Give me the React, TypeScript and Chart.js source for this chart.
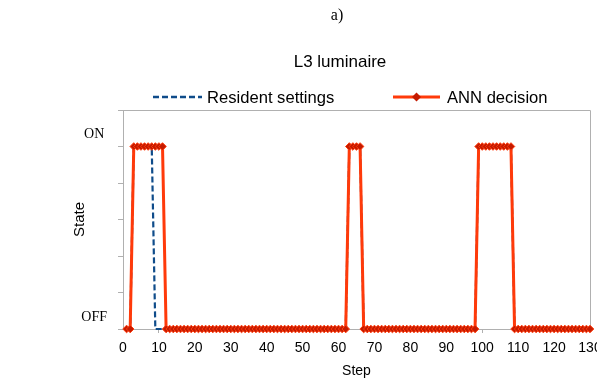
import React, { useEffect, useRef } from "react";
import { Chart, registerables } from "chart.js";

Chart.register(...registerables);

const steps = [
  1, 2, 3, 4, 5, 6, 7, 8, 9, 10,
  11, 12, 13, 14, 15, 16, 17, 18, 19, 20,
  21, 22, 23, 24, 25, 26, 27, 28, 29, 30,
  31, 32, 33, 34, 35, 36, 37, 38, 39, 40,
  41, 42, 43, 44, 45, 46, 47, 48, 49, 50,
  51, 52, 53, 54, 55, 56, 57, 58, 59, 60,
  61, 62, 63, 64, 65, 66, 67, 68, 69, 70,
  71, 72, 73, 74, 75, 76, 77, 78, 79, 80,
  81, 82, 83, 84, 85, 86, 87, 88, 89, 90,
  91, 92, 93, 94, 95, 96, 97, 98, 99, 100,
  101, 102, 103, 104, 105, 106, 107, 108, 109, 110,
  111, 112, 113, 114, 115, 116, 117, 118, 119, 120,
  121, 122, 123, 124, 125, 126, 127, 128, 129, 130,
];

const residentSettings = [
  0, 0, 1, 1, 1, 1, 1, 1, 0, 0,
  0, 0, 0, 0, 0, 0, 0, 0, 0, 0,
  0, 0, 0, 0, 0, 0, 0, 0, 0, 0,
  0, 0, 0, 0, 0, 0, 0, 0, 0, 0,
  0, 0, 0, 0, 0, 0, 0, 0, 0, 0,
  0, 0, 0, 0, 0, 0, 0, 0, 0, 0,
  0, 0, 1, 1, 1, 1, 0, 0, 0, 0,
  0, 0, 0, 0, 0, 0, 0, 0, 0, 0,
  0, 0, 0, 0, 0, 0, 0, 0, 0, 0,
  0, 0, 0, 0, 0, 0, 0, 0, 1, 1,
  1, 1, 1, 1, 1, 1, 1, 1, 0, 0,
  0, 0, 0, 0, 0, 0, 0, 0, 0, 0,
  0, 0, 0, 0, 0, 0, 0, 0, 0, 0,
];

const annDecision = [
  0, 0, 1, 1, 1, 1, 1, 1, 1, 1,
  1, 0, 0, 0, 0, 0, 0, 0, 0, 0,
  0, 0, 0, 0, 0, 0, 0, 0, 0, 0,
  0, 0, 0, 0, 0, 0, 0, 0, 0, 0,
  0, 0, 0, 0, 0, 0, 0, 0, 0, 0,
  0, 0, 0, 0, 0, 0, 0, 0, 0, 0,
  0, 0, 1, 1, 1, 1, 0, 0, 0, 0,
  0, 0, 0, 0, 0, 0, 0, 0, 0, 0,
  0, 0, 0, 0, 0, 0, 0, 0, 0, 0,
  0, 0, 0, 0, 0, 0, 0, 0, 1, 1,
  1, 1, 1, 1, 1, 1, 1, 1, 0, 0,
  0, 0, 0, 0, 0, 0, 0, 0, 0, 0,
  0, 0, 0, 0, 0, 0, 0, 0, 0, 0,
];

const xTickMarks = [10, 100];
const yTickLabels: Record<string, string> = { "0": "OFF", "1": "ON" };

const panelLabel = "a)";
const chartTitle = "L3 luminaire";
const seriesNames = ["Resident settings", "ANN decision"];
const xTitle = "Step";
const yTitle = "State";

const RED = "#ff3a0a";
const RED_DARK = "#c41a00";
const BLUE = "#0f4c8a";
const GRAY = "#b0b0b0";
const SANS = "'Liberation Sans', Arial, sans-serif";
const SERIF = "'Liberation Serif', 'Times New Roman', serif";

const decorPlugin = {
  id: "decor",
  beforeDatasetsDraw(chart: any) {
    const { ctx, chartArea } = chart;
    ctx.save();
    ctx.strokeStyle = GRAY;
    ctx.lineWidth = 1;
    ctx.beginPath();
    ctx.moveTo(chartArea.left, chartArea.top + 0.5);
    ctx.lineTo(chartArea.right + 0.5, chartArea.top + 0.5);
    ctx.lineTo(chartArea.right + 0.5, chartArea.bottom);
    ctx.stroke();
    ctx.restore();
  },
  afterDraw(chart: any) {
    const { ctx } = chart;
    ctx.save();
    ctx.fillStyle = "#000";
    ctx.textAlign = "center";
    ctx.textBaseline = "middle";
    ctx.font = `16px ${SERIF}`;
    ctx.fillText(panelLabel, 337, 16);
    ctx.font = `17px ${SANS}`;
    ctx.fillText(chartTitle, 340, 62);

    // legend
    const ly = 97;
    ctx.strokeStyle = BLUE;
    ctx.lineWidth = 2.5;
    ctx.setLineDash([6, 3]);
    ctx.beginPath();
    ctx.moveTo(153, ly);
    ctx.lineTo(202, ly);
    ctx.stroke();
    ctx.setLineDash([]);
    ctx.textAlign = "left";
    ctx.font = `16.6px ${SANS}`;
    ctx.fillText(seriesNames[0], 207, ly + 1);

    ctx.strokeStyle = RED;
    ctx.lineWidth = 3;
    ctx.beginPath();
    ctx.moveTo(393, ly);
    ctx.lineTo(440, ly);
    ctx.stroke();
    ctx.fillStyle = RED_DARK;
    ctx.beginPath();
    ctx.moveTo(416.5, ly - 4.5);
    ctx.lineTo(421, ly);
    ctx.lineTo(416.5, ly + 4.5);
    ctx.lineTo(412, ly);
    ctx.closePath();
    ctx.fill();
    ctx.fillStyle = "#000";
    ctx.fillText(seriesNames[1], 447, ly + 1);
    ctx.restore();
  },
};

export default function App() {
  const ref = useRef<HTMLCanvasElement | null>(null);

  useEffect(() => {
    if (!ref.current) return;
    const chart = new Chart(ref.current, {
      type: "line",
      data: {
        datasets: [
          {
            label: seriesNames[1],
            data: steps.map((s, i) => ({ x: s, y: annDecision[i] })),
            borderColor: RED,
            borderWidth: 3,
            backgroundColor: RED_DARK,
            pointStyle: "rectRot",
            pointRadius: 3.8,
            pointBorderColor: RED,
            pointBorderWidth: 1,
            pointBackgroundColor: RED_DARK,
            tension: 0,
            order: 0,
            clip: 6,
          },
          {
            label: seriesNames[0],
            data: steps.map((s, i) => ({ x: s, y: residentSettings[i] })),
            borderColor: BLUE,
            borderWidth: 2.2,
            borderDash: [6, 3],
            pointRadius: 0,
            fill: false,
            tension: 0,
            order: 1,
            clip: 6,
          },
        ],
      } as any,
      options: {
        animation: false,
        responsive: false,
        devicePixelRatio: 1,
        layout: { padding: { top: 110, left: 0, right: 7, bottom: 0 } },
        plugins: {
          legend: { display: false },
          title: { display: false },
          tooltip: { enabled: false },
        },
        scales: {
          x: {
            type: "linear",
            min: 0,
            max: 130,
            ticks: {
              stepSize: 10,
              color: "#000",
              font: { family: SANS, size: 14 },
              padding: 7,
              maxRotation: 0,
              autoSkip: false,
            },
            grid: {
              drawOnChartArea: false,
              drawTicks: true,
              tickLength: 4,
              color: (c: any) =>
                c.tick && xTickMarks.includes(c.tick.value) ? GRAY : "rgba(0,0,0,0)",
            },
            border: { color: GRAY, width: 1 },
            title: {
              display: true,
              text: xTitle,
              color: "#000",
              font: { family: SANS, size: 14 },
              padding: { top: 0, bottom: 2 },
            },
            afterFit(scale: any) {
              scale.height = 53;
              scale.paddingLeft = 0;
              scale.paddingRight = 0;
            },
          },
          y: {
            type: "linear",
            min: 0,
            max: 1.2,
            ticks: {
              stepSize: 0.2,
              color: "#000",
              font: { family: SERIF, size: 14 },
              padding: 11,
              crossAlign: "center",
              labelOffset: -12,
              callback: (v: any) => {
                const key = String(Math.round(Number(v) * 1000) / 1000);
                return yTickLabels[key] ?? "";
              },
            },
            grid: {
              drawOnChartArea: false,
              drawTicks: true,
              tickLength: 5,
              color: GRAY,
            },
            border: { color: GRAY, width: 1 },
            title: {
              display: true,
              text: yTitle,
              color: "#000",
              font: { family: SANS, size: 15 },
              padding: { top: 71, bottom: 0 },
            },
            afterFit(scale: any) {
              scale.width = 123;
              scale.paddingTop = 0;
              scale.paddingBottom = 0;
            },
          },
        },
      } as any,
      plugins: [decorPlugin],
    });
    return () => chart.destroy();
  }, []);

  return (
    <div style={{ position: "fixed", left: 0, top: 0, width: 597, height: 382, background: "#fff" }}>
      <canvas ref={ref} width={597} height={382} style={{ display: "block" }} />
    </div>
  );
}
